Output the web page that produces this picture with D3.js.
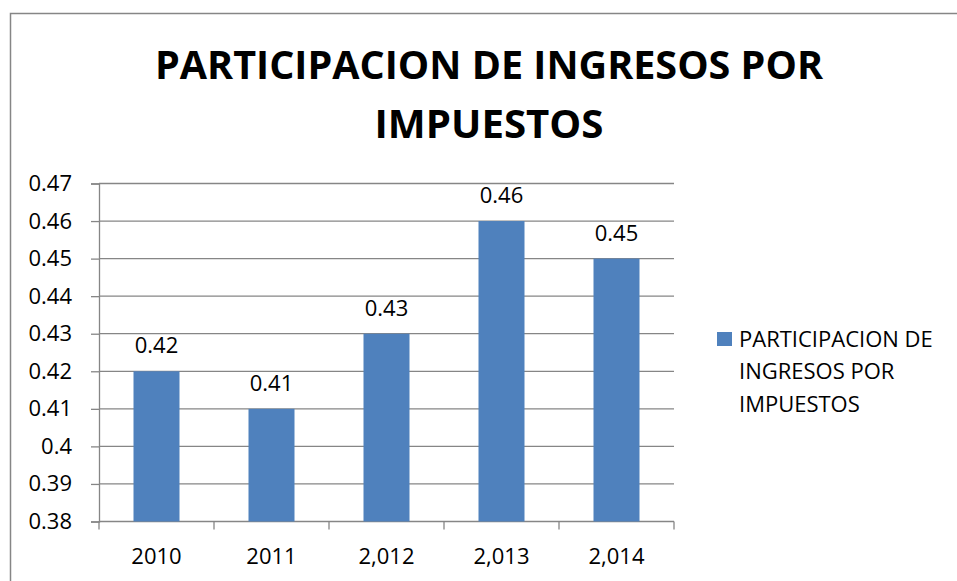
<!DOCTYPE html>
<html>
<head>
<meta charset="utf-8">
<script src="https://cdn.jsdelivr.net/npm/d3@7"></script>
<style>
  body { margin: 0; background: #fff; }
  text { font-family: "Open Sans", "Liberation Sans", sans-serif; fill: #000; }
</style>
</head>
<body>
<div id="chart"></div>
<script>
// data
const years = ["2010", "2011", "2,012", "2,013", "2,014"];
const shares = [0.42, 0.41, 0.43, 0.46, 0.45];
const yTicks = [0.38, 0.39, 0.40, 0.41, 0.42, 0.43, 0.44, 0.45, 0.46, 0.47];
const titleLines = ["PARTICIPACION DE INGRESOS POR", "IMPUESTOS"];
const legendLines = ["PARTICIPACION DE", "INGRESOS POR", "IMPUESTOS"];

const W = 957, H = 581;
const plot = {left: 99, right: 674, top: 183.5, bottom: 521.5};
const barColor = "#4F81BD", lineColor = "#868686";
const fs = "22px";

const svg = d3.select("#chart").append("svg")
  .attr("width", W).attr("height", H);

// outer frame
svg.append("rect")
  .attr("x", 10.5).attr("y", 13.5)
  .attr("width", W).attr("height", H)
  .attr("fill", "none").attr("stroke", lineColor).attr("stroke-width", 1.5);

// title
svg.selectAll(".title")
  .data(titleLines)
  .enter().append("text")
    .attr("class", "title")
    .attr("x", 489)
    .attr("y", (d, i) => 79 + i * 59)
    .attr("text-anchor", "middle")
    .attr("textLength", (d, i) => i === 0 ? 668 : 229)
    .attr("lengthAdjust", "spacingAndGlyphs")
    .style("font-size", "40px")
    .style("font-weight", "bold")
    .text(d => d);

var x = d3.scaleBand().domain(years)
  .range([plot.left, plot.right])
  .paddingInner(0.6).paddingOuter(0.3);
var y = d3.scaleLinear().domain([0.38, 0.47])
  .range([plot.bottom, plot.top]);

// gridlines
svg.append("g")
  .selectAll("line")
  .data(yTicks.slice(1))
  .enter().append("line")
    .attr("x1", plot.left).attr("x2", plot.right)
    .attr("y1", d => y(d)).attr("y2", d => y(d))
    .attr("stroke", lineColor).attr("stroke-width", 1.3);

// y axis
const yAxis = svg.append("g")
  .attr("transform", "translate(" + plot.left + ",0)")
  .call(d3.axisLeft(y).tickValues(yTicks).tickSize(8).tickPadding(19)
    .tickFormat(d => String(+d.toFixed(2))));
yAxis.select(".domain").attr("stroke", lineColor).attr("stroke-width", 1.3);
yAxis.selectAll(".tick line").attr("stroke", lineColor).attr("stroke-width", 1.3);
yAxis.selectAll("text")
  .style("font-size", fs)
  .style("font-family", "'Open Sans', sans-serif")
  .attr("fill", "#000");

// x axis: labels at band centres, ticks at band boundaries
const xAxis = svg.append("g")
  .attr("transform", "translate(0," + plot.bottom + ")")
  .call(d3.axisBottom(x).tickSize(0).tickSizeOuter(0));
xAxis.select(".domain").remove();
xAxis.selectAll("text")
  .attr("y", 42).attr("dy", 0)
  .style("font-size", fs)
  .style("font-family", "'Open Sans', sans-serif")
  .attr("fill", "#000");

const bounds = d3.range(years.length + 1).map(i => plot.left + i * x.step());
svg.append("line")
  .attr("x1", plot.left).attr("x2", plot.right)
  .attr("y1", plot.bottom).attr("y2", plot.bottom)
  .attr("stroke", lineColor).attr("stroke-width", 1.3);
svg.append("g")
  .selectAll("line")
  .data(bounds)
  .enter().append("line")
    .attr("x1", d => d).attr("x2", d => d)
    .attr("y1", plot.bottom).attr("y2", plot.bottom + 8)
    .attr("stroke", lineColor).attr("stroke-width", 1.3);

// bars
svg.selectAll(".bar")
  .data(shares)
  .enter().append("rect")
    .attr("class", "bar")
    .attr("x", (d, i) => x(years[i]))
    .attr("y", d => y(d))
    .attr("width", x.bandwidth())
    .attr("height", d => plot.bottom - y(d))
    .attr("fill", barColor);

// value labels
svg.selectAll(".val")
  .data(shares)
  .enter().append("text")
    .attr("class", "val")
    .attr("x", (d, i) => x(years[i]) + x.bandwidth() / 2)
    .attr("y", d => y(d) - 18)
    .attr("text-anchor", "middle")
    .style("font-size", fs)
    .text(d => d.toFixed(2));

// legend
svg.append("rect")
  .attr("x", 717).attr("y", 332)
  .attr("width", 15).attr("height", 14)
  .attr("fill", barColor);
svg.selectAll(".leg")
  .data(legendLines)
  .enter().append("text")
    .attr("class", "leg")
    .attr("x", 739)
    .attr("y", (d, i) => 346.5 + i * 32.5)
    .style("font-size", fs)
    .text(d => d);
</script>
</body>
</html>
